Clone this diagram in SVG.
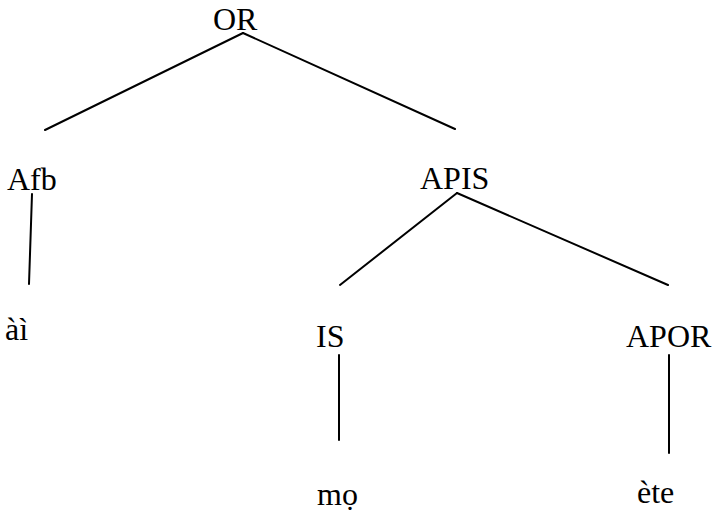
<svg xmlns="http://www.w3.org/2000/svg" width="719" height="511" viewBox="0 0 719 511">
<style>
text{font-family:"Liberation Serif","Times New Roman",serif;font-size:32px;fill:#000}
line{stroke:#000;stroke-width:2;stroke-linecap:round}
</style>
<rect width="719" height="511" fill="#fff"/>
<g id="connectors">
<line x1="243" y1="33" x2="45" y2="130"/>
<line x1="243" y1="33" x2="455" y2="129"/>
<line x1="32" y1="194" x2="29" y2="284"/>
<line x1="457" y1="193" x2="340" y2="285"/>
<line x1="457" y1="193" x2="668" y2="285"/>
<line x1="339" y1="355" x2="339" y2="440"/>
<line x1="669" y1="355" x2="669" y2="453"/>
</g>
<g id="n-OR"><text x="213" y="30">OR</text></g>
<g id="n-Afb"><text x="7" y="190">Afb</text></g>
<g id="n-APIS"><text x="420" y="189">APIS</text></g>
<g id="n-ai"><text x="5" y="340">àì</text></g>
<g id="n-IS"><text x="316" y="347">IS</text></g>
<g id="n-APOR"><text x="626" y="347">APOR</text></g>
<g id="n-mo"><text x="317" y="505">mọ</text></g>
<g id="n-ete"><text x="637" y="503">ète</text></g>
</svg>
